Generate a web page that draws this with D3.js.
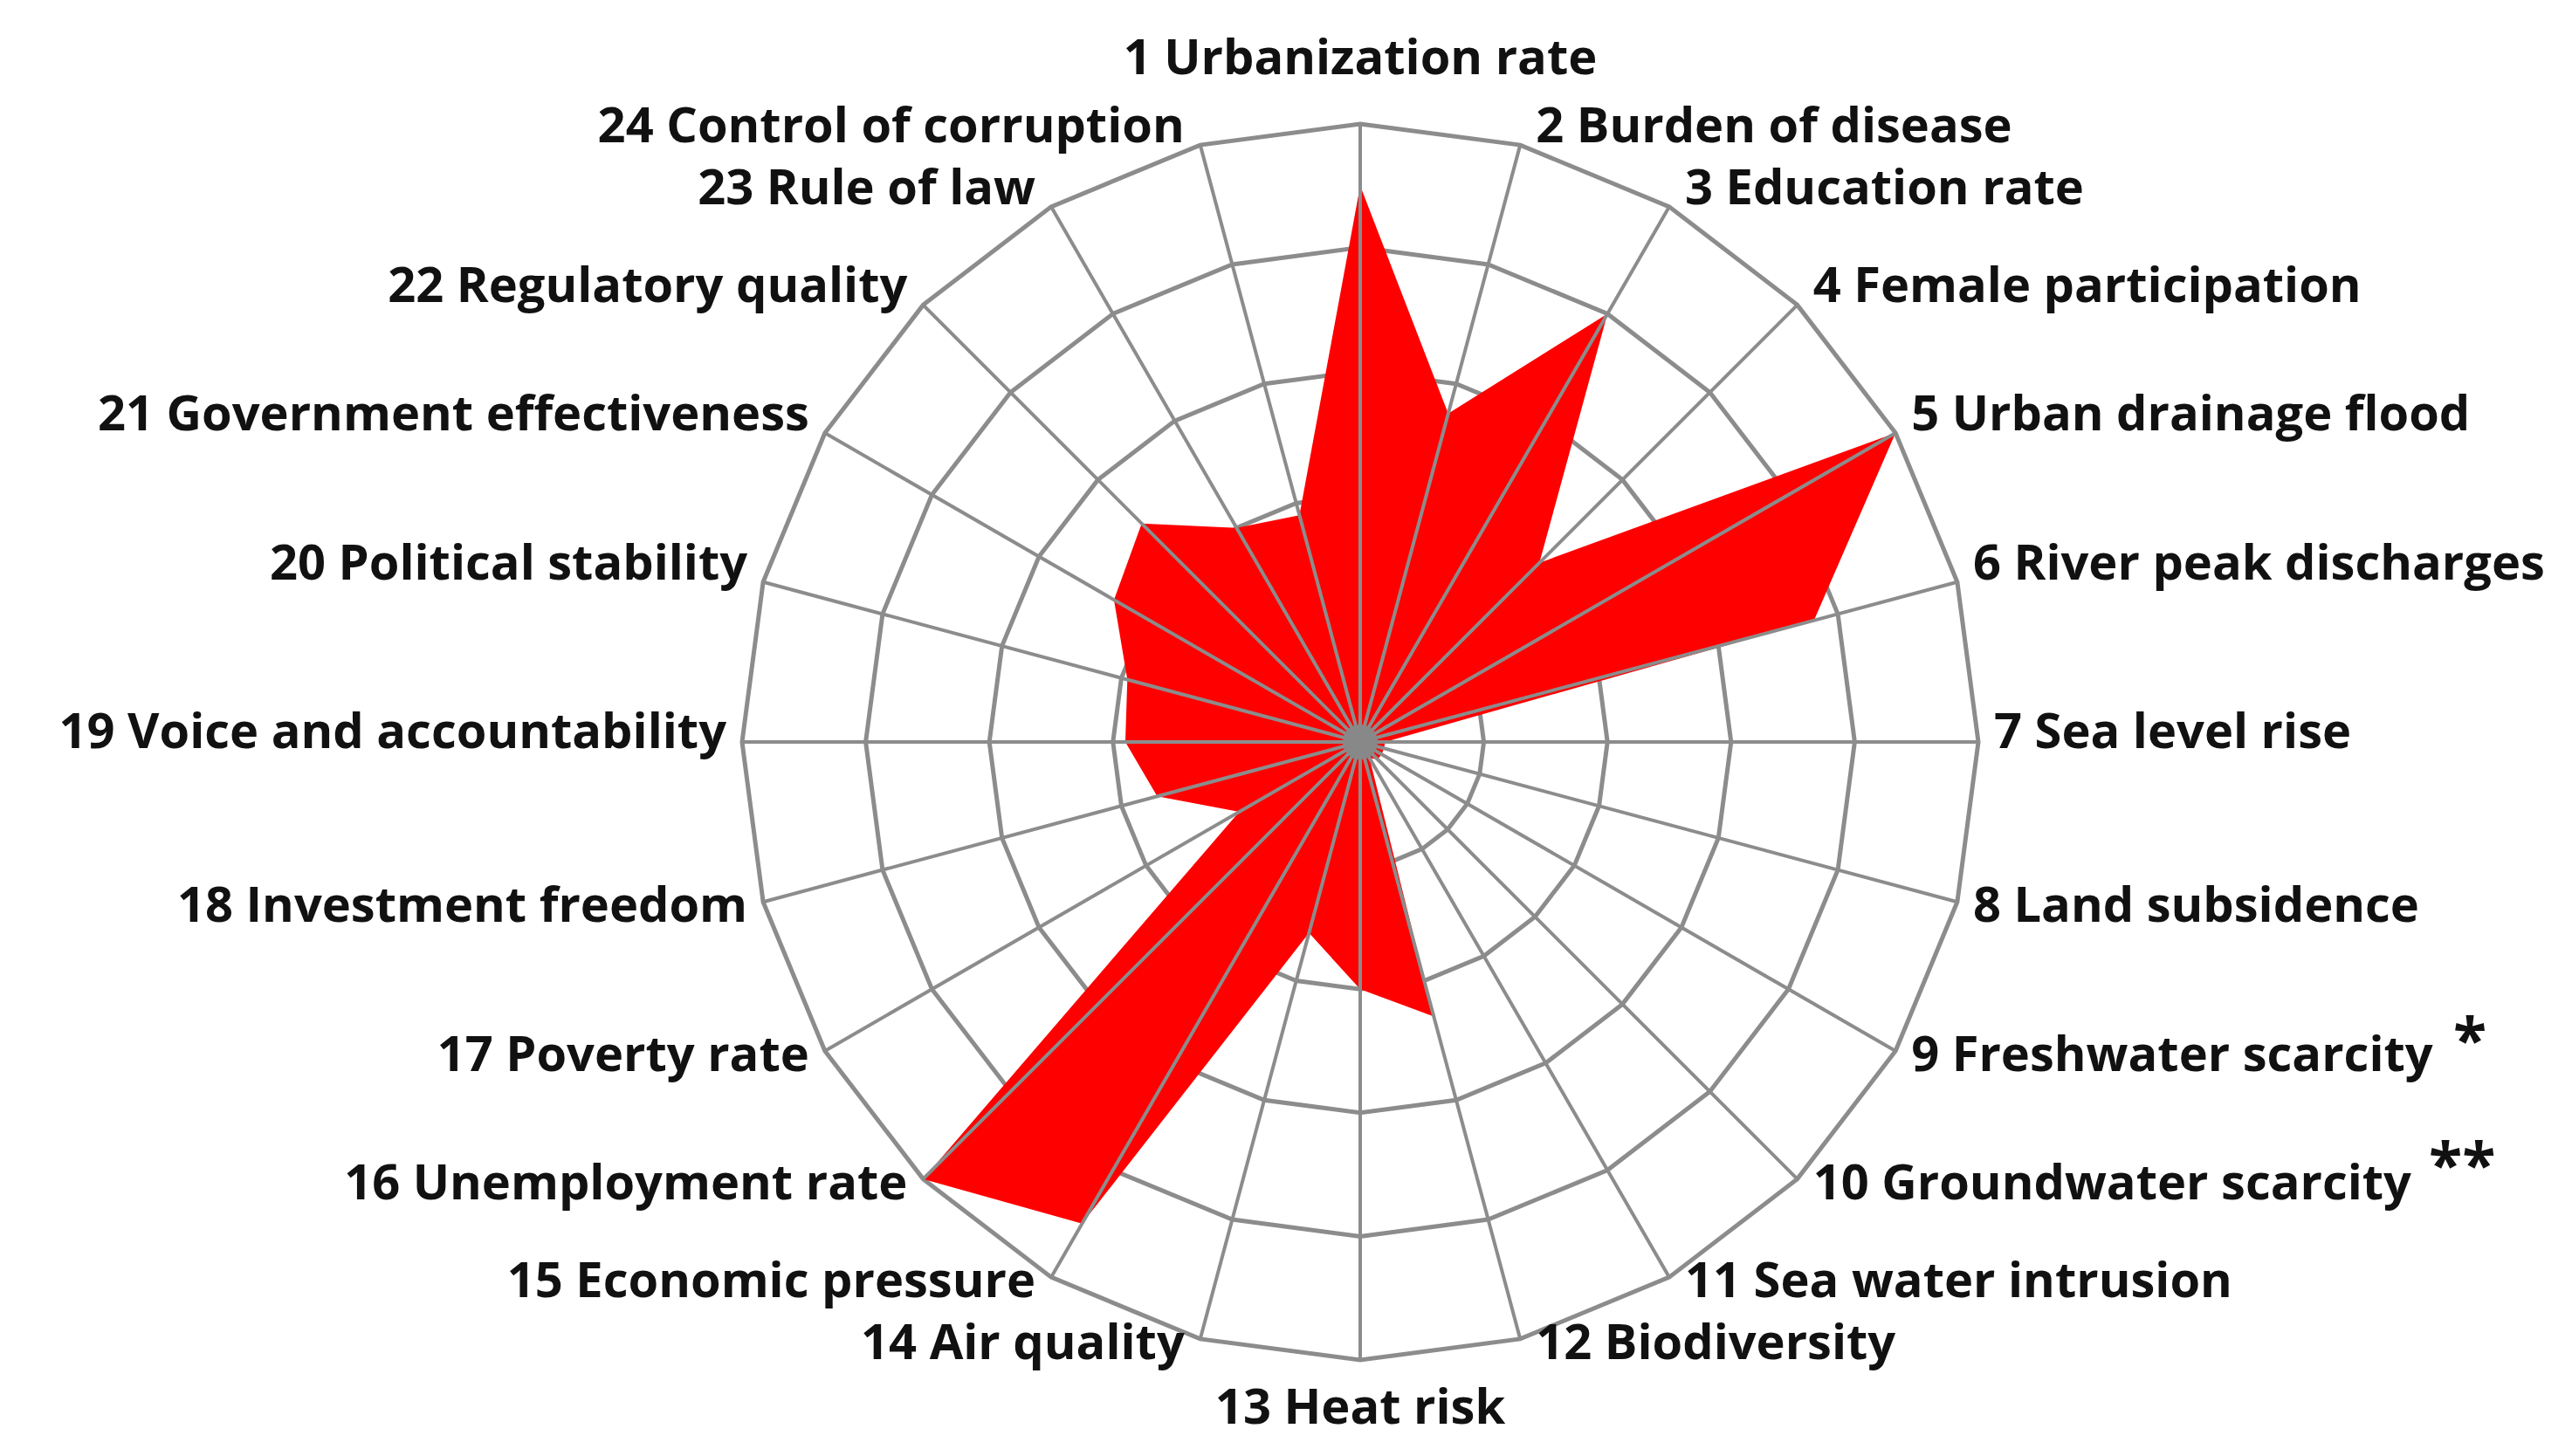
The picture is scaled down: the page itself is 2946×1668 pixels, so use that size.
<!DOCTYPE html>
<html>
<head>
<meta charset="utf-8">
<script src="https://cdn.jsdelivr.net/npm/d3@7"></script>
<style>
  body { margin: 0; background: #fff; }
  text { font-family: "Liberation Sans Narrow", "Open Sans", sans-serif; font-weight: bold; fill: #111; }
</style>
</head>
<body>
<svg id="chart" width="2946" height="1668"></svg>
<script>
// indicator names, clockwise from the top
const labels = [
  "1 Urbanization rate", "2 Burden of disease", "3 Education rate", "4 Female participation",
  "5 Urban drainage flood", "6 River peak discharges", "7 Sea level rise", "8 Land subsidence",
  "9 Freshwater scarcity", "10 Groundwater scarcity", "11 Sea water intrusion", "12 Biodiversity",
  "13 Heat risk", "14 Air quality", "15 Economic pressure", "16 Unemployment rate",
  "17 Poverty rate", "18 Investment  freedom", "19 Voice and accountability", "20 Political stability",
  "21 Government effectiveness", "22 Regulatory quality", "23 Rule of law", "24 Control of corruption"
];
// scores (0-5)
const scores = [4.5, 2.75, 4.0, 2.05, 5.0, 3.8, 0.2, 0.2, 0.2, 0.2, 0.15, 2.3,
                2.0, 1.6, 4.5, 5.0, 1.13, 1.7, 1.9, 1.95, 2.3, 2.5, 2.0, 1.9];
const rings = [1, 2, 3, 4, 5];
const marks = {9: "*", 10: "**"};

const svg = d3.select("#chart");
const cx = 1558, cy = 850, R = 708;
const n = labels.length;

const ang = d3.scaleLinear().domain([0, n]).range([0, 2 * Math.PI]);
const r = d3.scaleLinear().domain([0, 5]).range([0, R]);
const pt = (i, v) => [cx + r(v) * Math.sin(ang(i)), cy - r(v) * Math.cos(ang(i))];

const g = svg.append("g");

// polygon rings
rings.forEach(function(k) {
  g.append("polygon")
    .attr("points", d3.range(n).map(i => pt(i, k).join(",")).join(" "))
    .attr("fill", "none").attr("stroke", "#8c8c8c").attr("stroke-width", 5);
});

// data area
g.append("polygon")
  .attr("points", scores.map((v, i) => pt(i, v).join(",")).join(" "))
  .attr("fill", "#ff0000");

// spokes on top of the fill
g.selectAll("line.spoke")
  .data(d3.range(n))
  .enter().append("line")
  .attr("x1", cx).attr("y1", cy)
  .attr("x2", i => pt(i, 5)[0]).attr("y2", i => pt(i, 5)[1])
  .attr("stroke", "#8c8c8c").attr("stroke-width", 4);

g.append("circle").attr("cx", cx).attr("cy", cy).attr("r", 20).attr("fill", "#888");

// labels
g.selectAll("text.lab")
  .data(labels)
  .enter().append("text")
  .attr("font-size", 56)
  .attr("dominant-baseline", "middle")
  .attr("text-anchor", (d, i) => (i === 0 || i === 12) ? "middle" : (i < 12 ? "start" : "end"))
  .attr("x", function(d, i) {
    const p = pt(i, 5);
    if (i === 0 || i === 12) return p[0];
    return p[0] + (i < 12 ? 18 : -18);
  })
  .attr("y", function(d, i) {
    const p = pt(i, 5);
    if (i === 0) return p[1] - 72;
    if (i === 12) return p[1] + 58;
    const c = Math.cos(ang(i));
    return p[1] + (c > 0.01 ? -18 : (c < -0.01 ? 8 : -8));
  })
  .text(d => d);

// significance asterisks
Object.keys(marks).forEach(function(k) {
  const i = +k - 1, p = pt(i, 5);
  g.append("text")
    .attr("font-size", 70)
    .attr("x", i === 8 ? 2810 : 2782)
    .attr("y", p[1] + (i === 8 ? 12 : 8))
    .text(marks[k]);
});
</script>
</body>
</html>
